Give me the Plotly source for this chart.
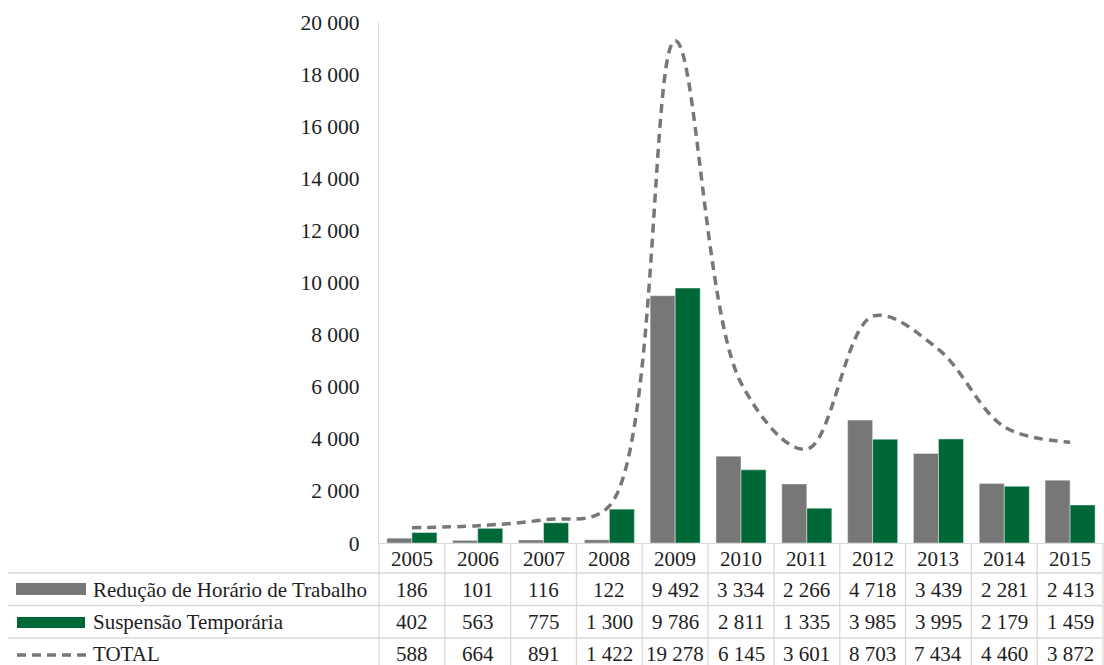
import plotly.graph_objects as go

years = ["2005", "2006", "2007", "2008", "2009", "2010", "2011", "2012", "2013", "2014", "2015"]
reducao = [186, 101, 116, 122, 9492, 3334, 2266, 4718, 3439, 2281, 2413]
suspensao = [402, 563, 775, 1300, 9786, 2811, 1335, 3985, 3995, 2179, 1459]
total = [588, 664, 891, 1422, 19278, 6145, 3601, 8703, 7434, 4460, 3872]
series_names = ["Redução de Horário de Trabalho", "Suspensão Temporária", "TOTAL"]

GRAY = "#777777"
GREEN = "#006837"
LINEGRAY = "#d9d9d9"
FONT = "Liberation Serif, Times New Roman, serif"
TXT = "#1e1e1e"
TFS = 21

W, H = 1104, 665
L, R, T, B = 379, 1, 22, 122
PW = W - L - R
PH = H - T - B


def px(X):
    return (X - L) / PW


def py(Y):
    return (H - B - Y) / PH


fig = go.Figure()
fig.add_trace(go.Bar(x=years, y=reducao, name=series_names[0], marker_color=GRAY, showlegend=False))
fig.add_trace(go.Bar(x=years, y=suspensao, name=series_names[1], marker_color=GREEN, showlegend=False))
fig.add_trace(go.Scatter(x=years, y=total, name=series_names[2], mode="lines",
                         line=dict(color=GRAY, width=3.5, dash="9px,6px", shape="spline", smoothing=1.0),
                         showlegend=False))

shapes = []
annotations = []

# table horizontal lines
for Y in [573, 605.5, 638]:
    shapes.append(dict(type="line", xref="paper", yref="paper", x0=px(8), x1=px(1103),
                       y0=py(Y), y1=py(Y), line=dict(color=LINEGRAY, width=1.3)))
# table vertical lines
n = len(years)
for i in range(n + 1):
    shapes.append(dict(type="line", xref="paper", yref="paper", x0=i / n, x1=i / n,
                       y0=py(543), y1=py(665), line=dict(color=LINEGRAY, width=1.3)))

# legend keys
shapes.append(dict(type="rect", xref="paper", yref="paper", x0=px(16), x1=px(86),
                   y0=py(595), y1=py(583), fillcolor=GRAY, line=dict(width=0)))
shapes.append(dict(type="rect", xref="paper", yref="paper", x0=px(17), x1=px(85),
                   y0=py(628), y1=py(617), fillcolor=GREEN, line=dict(width=0)))
shapes.append(dict(type="line", xref="paper", yref="paper", x0=px(17), x1=px(86),
                   y0=py(655), y1=py(655), line=dict(color=GRAY, width=3.5, dash="9px,6px")))

row_y = [589.5, 621.5, 653.5]
for name, Y in zip(series_names, row_y):
    annotations.append(dict(text=name, xref="paper", yref="paper", x=px(91), y=py(Y),
                            xanchor="left", yanchor="middle", showarrow=False,
                            font=dict(family=FONT, size=TFS, color=TXT)))


def fmt(v):
    return f"{v:,}".replace(",", " ")


for i, yr in enumerate(years):
    annotations.append(dict(text=yr, xref="x", yref="paper", x=i, y=py(558.5),
                            xanchor="center", yanchor="middle", showarrow=False,
                            font=dict(family=FONT, size=TFS, color=TXT)))
    for vals, Y in zip([reducao, suspensao, total], row_y):
        annotations.append(dict(text=fmt(vals[i]), xref="x", yref="paper", x=i, y=py(Y),
                                xanchor="center", yanchor="middle", showarrow=False,
                                font=dict(family=FONT, size=TFS, color=TXT)))

fig.update_layout(
    width=W, height=H,
    margin=dict(l=L, r=R, t=T, b=B, pad=0),
    paper_bgcolor="white", plot_bgcolor="white",
    barmode="group", bargap=0.24, bargroupgap=0,
    separators=", ",
    shapes=shapes, annotations=annotations,
    xaxis=dict(type="category", showticklabels=False, showline=True, linecolor=LINEGRAY,
               linewidth=1.3, showgrid=False, ticks="", zeroline=False, range=[-0.5, 10.5]),
    yaxis=dict(range=[0, 20000], dtick=2000, tickformat=",d", showgrid=False, zeroline=False,
               showline=True, linecolor=LINEGRAY, linewidth=1.3, ticks="outside", ticklen=14,
               tickcolor="rgba(0,0,0,0)",
               tickfont=dict(family=FONT, size=21.5, color=TXT)),
)

fig.write_html("out.html", config={"displayModeBar": False},
               post_script="document.body.style.margin='0px';document.body.style.overflow='hidden';")
